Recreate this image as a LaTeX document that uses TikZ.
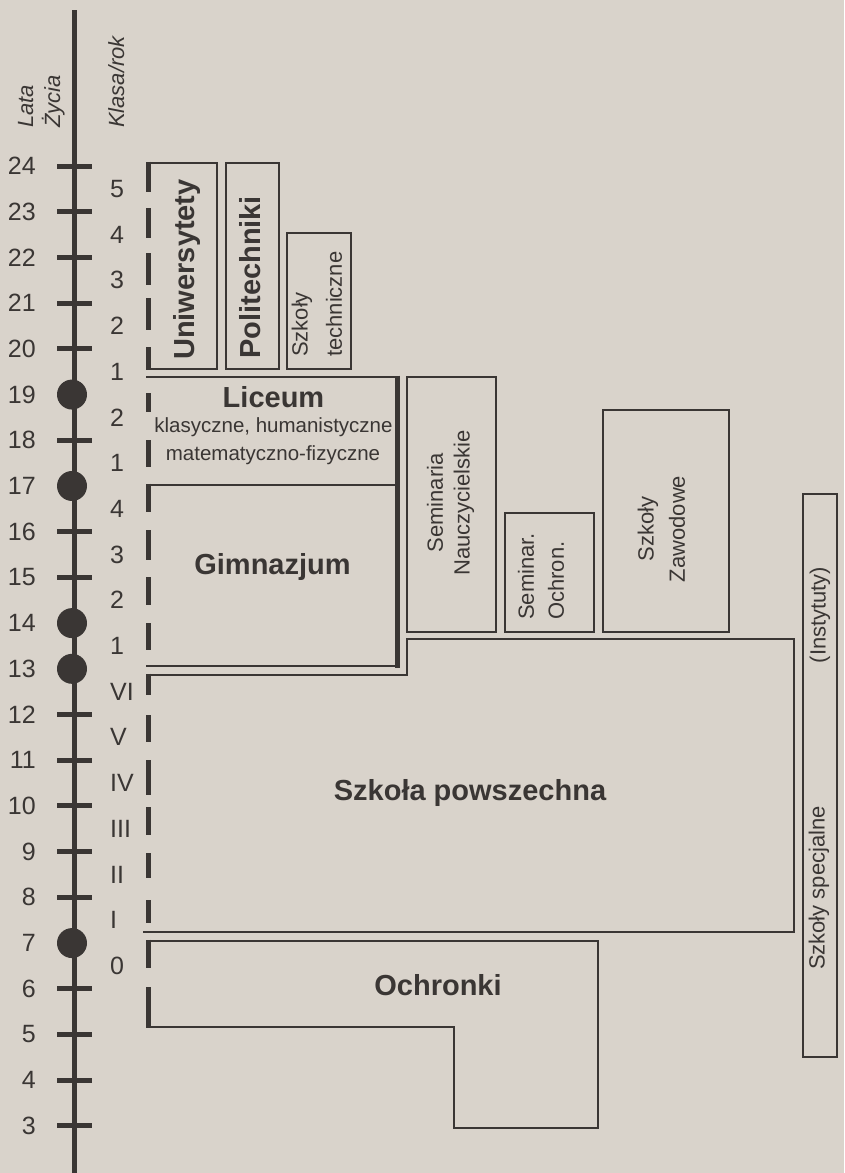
\documentclass[tikz,border=0pt]{standalone}
\usepackage{fontspec}
\setmainfont{Liberation Sans}
\definecolor{bg}{RGB}{217,211,203}
\definecolor{ink}{RGB}{58,54,52}
\begin{document}
\begin{tikzpicture}[x=1pt,y=-1pt,
  box/.style={draw=ink,line width=2.8pt,line join=miter},
  heavy/.style={draw=ink,line width=5pt},
  dashseg/.style={draw=ink,line width=5pt,line cap=butt},
  bt/.style={font=\fontsize{29}{34}\selectfont\bfseries,text=ink,inner sep=0pt},
  nt/.style={font=\fontsize{22}{26}\selectfont,text=ink,inner sep=0pt},
  st/.style={font=\fontsize{20.5}{24}\selectfont,text=ink,inner sep=0pt},
  it/.style={font=\fontsize{22}{26}\selectfont\itshape,text=ink,inner sep=0pt},
  num/.style={font=\fontsize{25}{30}\selectfont,text=ink,inner sep=0pt}]
\useasboundingbox (0,0) rectangle (844,1173);
\fill[bg] (0,0) rectangle (844,1173);

% axis
\draw[heavy] (74,10) -- (74,1173);
\foreach \a in {24,23,22,21,20,18,16,15,12,11,10,9,8,6,5,4,3}{
  \pgfmathsetmacro\yy{166+(24-\a)*45.71}
  \draw[heavy] (57,\yy) -- (92,\yy);
}
\foreach \a in {19,17,14,13,7}{
  \pgfmathsetmacro\yy{166+(24-\a)*45.71}
  \fill[ink] (72,\yy) circle (15);
}
\foreach \a in {24,...,3}{
  \pgfmathsetmacro\yy{166+(24-\a)*45.71}
  \node[num,anchor=east] (age\a) at (36,\yy) {\a};
}
\foreach \p/\t [count=\i] in {23.5/5,22.5/4,21.5/3,20.5/2,19.5/1,18.5/2,17.5/1,16.5/4,15.5/3,14.5/2,13.5/1,12.5/VI,11.5/V,10.5/IV,9.5/III,8.5/II,7.5/I,6.5/0}{
  \pgfmathsetmacro\yy{166+(24-\p)*45.71}
  \node[num,anchor=west] (cls\i) at (110,\yy) {\t};
}
\node[it,rotate=90,anchor=base west] (lata) at (33,128) {Lata};
\node[it,rotate=90,anchor=base west] (zycia) at (60,128) {Życia};
\node[it,rotate=90,anchor=base west] (klasa) at (124,128) {Klasa/rok};

% dashed left edge
\foreach \s/\e in {161.6/192,208/238,253/285,298/330,347/370.4,393/412,440/467,483.6/512,530/560,577/605,623/650,673.6/695,715/742,760/795,807/835,853/878,900/923,939.6/968,987/1028.4}{
  \draw[dashseg] (148,\s) -- (148,\e);
}

% boxes
\draw[box] (146,163) -- (217,163) -- (217,369) -- (146,369);
\draw[box] (226,163) rectangle (279,369);
\draw[box] (287,233) rectangle (351,369);
\draw[box] (146,377) -- (399,377);
\draw[box] (146,485) -- (397,485);
\draw[heavy] (397.5,375.6) -- (397.5,668.4);
\draw[box] (146,666) -- (397,666);
\draw[box] (407,377) rectangle (496,632);
\draw[box] (505,513) rectangle (594,632);
\draw[box] (603,410) rectangle (729,632);
\draw[box] (146,675) -- (407,675) -- (407,639) -- (794,639) -- (794,932) -- (143,932);
\draw[box] (146,941) -- (598,941) -- (598,1128) -- (454,1128) -- (454,1027) -- (146,1027);
\draw[box] (803,494) rectangle (837,1057);

% texts
\node[bt,rotate=90,anchor=west] (uni) at (187,360) {Uniwersytety};
\node[bt,rotate=90,anchor=west] (poli) at (250,359) {Politechniki};
\node[nt,rotate=90,anchor=west] (techA) at (302,357) {Szkoły};
\node[nt,rotate=90,anchor=west] (techB) at (334,357) {techniczne};
\node[bt] (lic) at (273.5,397) {Liceum};
\node[st] (licA) at (273.5,427) {klasyczne, humanistyczne};
\node[st] (licB) at (273,455) {matematyczno-fizyczne};
\node[bt] (gim) at (272.5,567) {Gimnazjum};
\node[nt,rotate=90] (semA) at (435,503) {Seminaria};
\node[nt,rotate=90] (semB) at (464,503) {Nauczycielskie};
\node[nt,rotate=90,anchor=west] (ochA) at (526,620) {Seminar.};
\node[nt,rotate=90,anchor=west] (ochB) at (556,620) {Ochron.};
\node[nt,rotate=90] (zawA) at (648,529) {Szkoły};
\node[nt,rotate=90] (zawB) at (677,529) {Zawodowe};
\node[bt] (pow) at (470,793) {Szkoła powszechna};
\node[bt] (och) at (438,985) {Ochronki};
\node[nt,rotate=90] (specA) at (819,888) {Szkoły specjalne};
\node[nt,rotate=90] (specB) at (820,615) {(Instytuty)};
\end{tikzpicture}
\end{document}
